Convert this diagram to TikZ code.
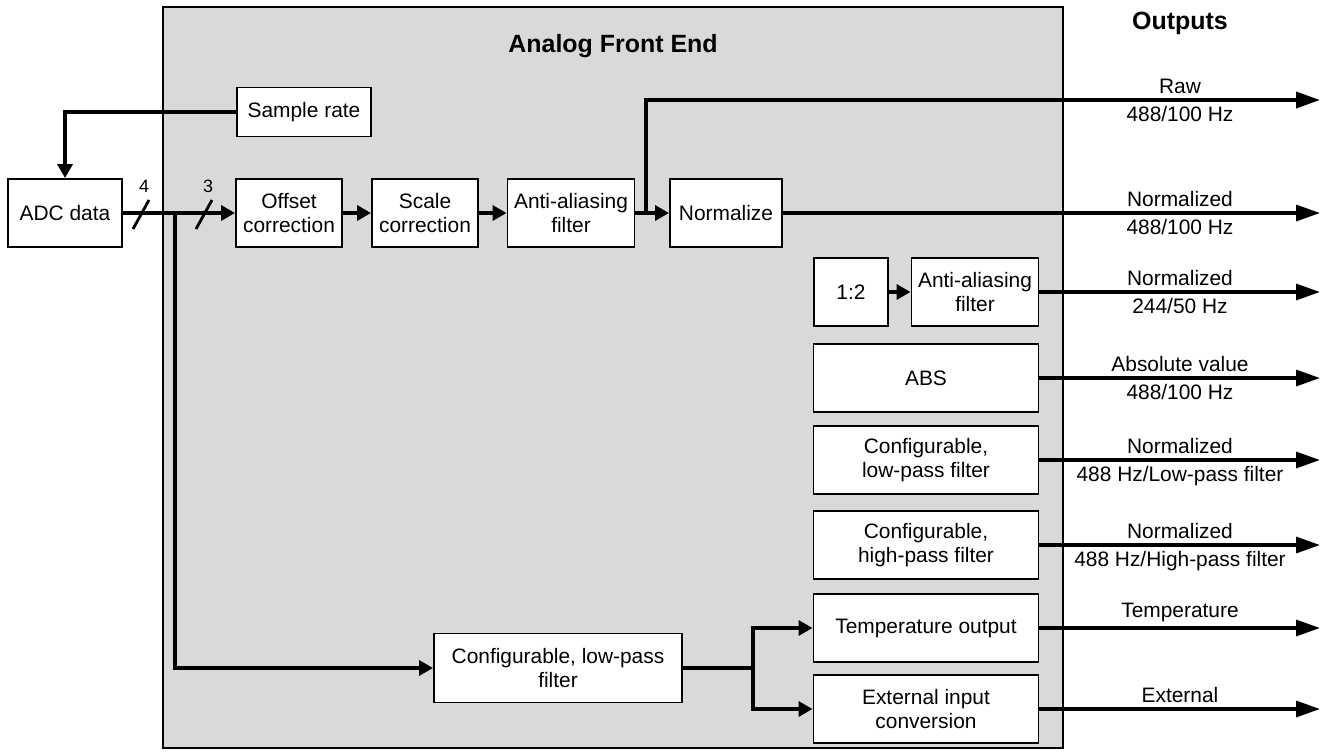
\documentclass[tikz,border=0pt]{standalone}
\usepackage{fontspec}
\setmainfont{Liberation Sans}
\usepackage{tikz}
\usetikzlibrary{arrows.meta}
\definecolor{afegray}{HTML}{D9D9D9}

\begin{document}
\begin{tikzpicture}[x = 0.02cm, y = -0.02cm,
    font = \fontsize{11.9}{13.6}\selectfont,
    boxsize/.style 2 args = {minimum width = #1*0.02cm, minimum height = #2*0.02cm},
    block/.style = {draw, fill = white, line width = 1.1pt, align = center, inner sep = 0pt},
    flow/.style = {line width = 2.2pt, -{Triangle[length = 0.28cm, width = 0.3cm]}},
    outarrow/.style = {line width = 1.9pt, -{Triangle[length = 0.48cm, width = 0.32cm]}},
    heading/.style = {font = \fontsize{14.2}{17}\selectfont\bfseries},
    buswidth/.style = {font = \fontsize{10.2}{12}\selectfont}]
\useasboundingbox (0,0) rectangle (1323,752);

%Analog front end area
\draw[fill = afegray, line width = 1.1pt] (163,7) rectangle (1063,748);
\node[heading] (title) at (613,46) {Analog Front End};
\node[heading] (outputs) at (1180,23) {Outputs};

%blocks
\node[block, boxsize = {114}{68}] (adc) at (65,213) {ADC data};
\node[block, boxsize = {134}{49}] (rate) at (304,112) {Sample rate};
\node[block, boxsize = {106}{68}] (offset) at (289,213) {Offset\\correction};
\node[block, boxsize = {106}{68}] (scl) at (425,213) {Scale\\correction};
\node[block, boxsize = {127}{68}] (aaf) at (571,213) {Anti-aliasing\\filter};
\node[block, boxsize = {112}{68}] (norm) at (726,213) {Normalize};
\node[block, boxsize = {74}{68}] (half) at (851,292) {1:2};
\node[block, boxsize = {127}{68}] (aafb) at (975,292) {Anti-aliasing\\filter};
\node[block, boxsize = {225}{68}] (abs) at (926,378) {ABS};
\node[block, boxsize = {225}{68}] (lpf) at (926,460) {Configurable,\\low-pass filter};
\node[block, boxsize = {225}{68}] (hpf) at (926,545) {Configurable,\\high-pass filter};
\node[block, boxsize = {225}{68}] (temp) at (926,628) {Temperature output};
\node[block, boxsize = {225}{68}] (ext) at (926,709) {External input\\conversion};
\node[block, boxsize = {248}{69}] (lpfb) at (558,668) {Configurable, low-pass\\filter};

%branch points
\coordinate (tap) at (175,213);
\coordinate (split) at (646,213);
\coordinate (fork) at (753,668);

%main signal path
\draw[flow] (rate.west) -| (adc.north);
\draw[flow] (adc.east) -- (offset.west);
\draw[flow] (offset.east) -- (scl.west);
\draw[flow] (scl.east) -- (aaf.west);
\draw[flow] (aaf.east) -- (norm.west);
\draw[flow] (half.east) -- (aafb.west);

%bus widths
\draw[line width = 1.6pt] (133,229) -- (149,200);
\node[buswidth] (w4) at (144,186) {4};
\draw[line width = 1.6pt] (196,229) -- (212,200);
\node[buswidth] (w3) at (208,186) {3};

%temperature path
\draw[flow] (tap) |- (lpfb.west);
\draw[line width = 2.2pt] (lpfb.east) -- (fork);
\draw[flow] (fork) |- (temp.west);
\draw[flow] (fork) |- (ext.west);

%output ends
\foreach \name/\y in {oraw/100, onorm/213, ohalf/292, oabs/378, olpf/460, ohpf/545, otemp/628, oext/709}
  \coordinate (\name) at (1320,\y);

%outputs
\draw[outarrow, line width = 2.2pt] (split) |- (oraw);
\draw[outarrow] (norm.east) -- (onorm);
\draw[outarrow] (aafb.east) -- (ohalf);
\draw[outarrow] (abs.east) -- (oabs);
\draw[outarrow] (lpf.east) -- (olpf);
\draw[outarrow] (hpf.east) -- (ohpf);
\draw[outarrow] (temp.east) -- (otemp);
\draw[outarrow] (ext.east) -- (oext);

%output labels
\foreach \y/\abovetxt/\belowtxt in {100/Raw/{488/100 Hz}, 213/Normalized/{488/100 Hz},
    292/Normalized/{244/50 Hz}, 378/Absolute value/{488/100 Hz},
    460/Normalized/{488 Hz/Low-pass filter}, 545/Normalized/{488 Hz/High-pass filter}}
{
  \node[above] (up\y) at (1180,\y) {\abovetxt};
  \node[below] (dn\y) at (1180,\y) {\belowtxt};
}
\node[above] (up628) at (1180,628) {Temperature};
\node[above] (up709) at (1180,709) {External};

\end{tikzpicture}
\end{document}
